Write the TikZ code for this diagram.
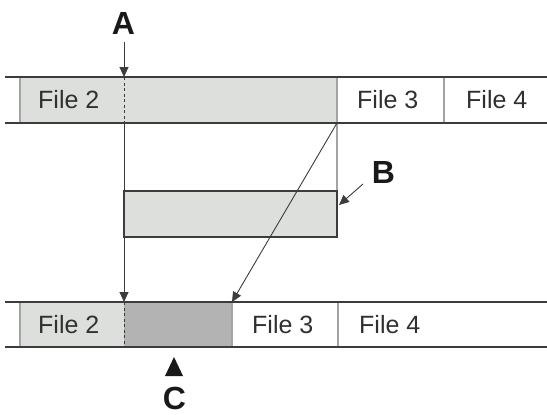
\documentclass[tikz,border=0pt]{standalone}
\usepackage{fontspec}
\setmainfont{Liberation Sans}
\usetikzlibrary{arrows.meta}
\definecolor{lgray}{HTML}{DDDFDD}
\definecolor{dgray}{HTML}{B3B3B3}
\definecolor{lineC}{HTML}{3C3C3C}
\definecolor{divC}{HTML}{A4A4A4}
\definecolor{txtC}{HTML}{303030}
\begin{document}
\begin{tikzpicture}[x=1pt,y=-1pt,
  bandline/.style={draw=lineC,line width=1.8pt},
  divline/.style={draw=divC,line width=1.8pt},
  dashline/.style={draw=lineC,line width=0.9pt,dash pattern=on 3pt off 2.5pt},
  arr/.style={draw=lineC,line width=0.9pt,-{Triangle[width=9pt,length=10pt]}},
  filelbl/.style={anchor=west,inner sep=0pt,text=txtC,font=\fontsize{25}{30}\selectfont},
  biglbl/.style={inner sep=0pt,text=black!90,font=\fontsize{32}{38}\selectfont\bfseries},
  boxst/.style={draw=lineC,line width=1.4pt,fill=lgray,inner sep=0pt}]
\useasboundingbox (0,0) rectangle (547,415);
% top band
\fill[lgray] (20,77) rectangle (337,123);
\draw[divline] (20,77) -- (20,123);
\draw[divline] (337,77) -- (337,191);
\draw[divline] (444,77) -- (444,123);
\draw[bandline] (5,77) -- (547,77);
\draw[bandline] (5,123) -- (547,123);
\node[filelbl] (t2) at (38,100) {File 2};
\node[filelbl] (t3) at (357,100) {File 3};
\node[filelbl] (t4) at (466,100) {File 4};
% bottom band
\fill[lgray] (20,302) rectangle (124,347);
\fill[dgray] (124,302) rectangle (232,347);
\draw[divline] (20,302) -- (20,347);
\draw[divline] (232,302) -- (232,347);
\draw[divline] (338,302) -- (338,347);
\draw[bandline] (5,302) -- (547,302);
\draw[bandline] (5,347) -- (547,347);
\node[filelbl] (b2) at (38,325) {File 2};
\node[filelbl] (b3) at (252,325) {File 3};
\node[filelbl] (b4) at (359,325) {File 4};
% middle box
\node[boxst,minimum width=213pt,minimum height=46pt] (box) at (230.5,214) {};
% labels
\node[biglbl] (A) at (123.5,23) {A};
\node[biglbl] (B) at (383.5,172) {B};
\node[biglbl] (C) at (174.5,398.5) {C};
\fill[black!90] (165,376) -- (183,376) -- (174,357) -- cycle;
% coordinates
\coordinate (a0) at (124,42);
\coordinate (a1) at (124,77);
\coordinate (a2) at (124,123);
\coordinate (a3) at (124,302);
\coordinate (c1) at (124,347);
\coordinate (d0) at (337,123);
\coordinate (d1) at (232,302);
\coordinate (bb0) at (363,184);
\coordinate (bb1) at (339,205);
% connectors
\draw[arr] (a0) -- (a1);
\draw[dashline] (a1) -- (a2);
\draw[arr] (a2) -- (a3);
\draw[dashline] (a3) -- (c1);
\draw[arr] (d0) -- (d1);
\draw[arr] (bb0) -- (bb1);
\end{tikzpicture}
\end{document}
